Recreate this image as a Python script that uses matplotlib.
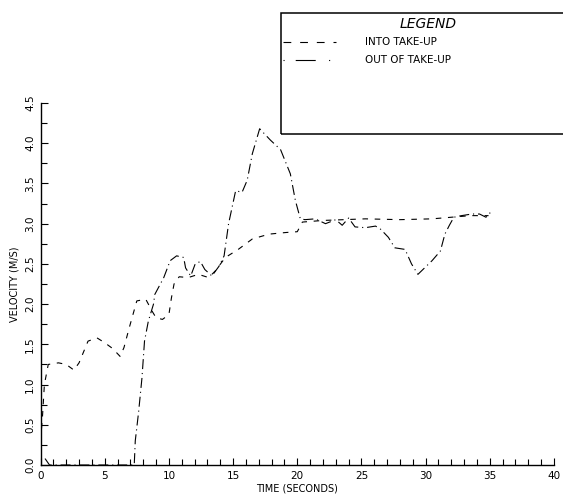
import matplotlib
matplotlib.use("Agg")
import matplotlib.pyplot as plt
from matplotlib.lines import Line2D
from matplotlib.patches import Rectangle
from matplotlib.ticker import MultipleLocator

# ---- data ----
into_t = [0.0, 0.15, 0.3, 0.6, 1.4, 2.0, 2.6, 3.0, 3.7, 4.4, 5.0, 5.6, 6.2, 6.5,
          6.9, 7.5, 8.2, 8.7, 9.0, 9.5, 10.0, 10.2, 10.4, 10.8, 11.5, 12.3, 13.1,
          13.6, 14.4, 15.4, 16.5, 17.8, 19.1, 20.0, 20.4, 22.0, 25.3, 28.0, 30.5,
          32.0, 33.5, 34.9]
into_v = [0.30, 0.60, 1.00, 1.25, 1.27, 1.25, 1.18, 1.27, 1.54, 1.58, 1.52, 1.45,
          1.35, 1.46, 1.70, 2.04, 2.06, 1.91, 1.83, 1.81, 1.87, 2.08, 2.25, 2.34,
          2.33, 2.37, 2.33, 2.41, 2.58, 2.68, 2.81, 2.87, 2.89, 2.90, 3.02, 3.04,
          3.06, 3.05, 3.06, 3.08, 3.10, 3.10]

out_t = [0.35, 0.7, 7.3, 7.38, 7.64, 7.9, 8.1, 8.4, 8.8, 8.9, 9.6, 10.1, 10.6,
         11.15, 11.3, 11.7, 12.05, 12.45, 12.8, 13.35, 13.9, 14.3, 14.65, 15.2,
         15.7, 16.1, 16.5, 17.07, 17.9, 18.7, 19.46, 19.85, 20.24, 20.6, 21.4,
         22.2, 23.0, 23.5, 24.0, 24.5, 25.3, 26.1, 26.5, 27.1, 27.6, 28.4, 28.9,
         29.4, 30.5, 31.15, 31.5, 31.85, 32.2, 32.8, 33.6, 34.2, 34.7, 35.05]
out_v = [0.08, 0.0, 0.0, 0.30, 0.66, 1.08, 1.54, 1.79, 2.00, 2.12, 2.33, 2.54,
         2.60, 2.58, 2.45, 2.35, 2.50, 2.53, 2.43, 2.35, 2.47, 2.60, 3.00, 3.41,
         3.39, 3.54, 3.87, 4.18, 4.04, 3.92, 3.62, 3.29, 3.06, 3.05, 3.06, 3.00,
         3.05, 2.98, 3.07, 2.96, 2.95, 2.97, 2.93, 2.83, 2.70, 2.68, 2.50, 2.37,
         2.54, 2.66, 2.87, 2.98, 3.08, 3.10, 3.12, 3.12, 3.08, 3.14]

x_ticks = [0, 5, 10, 15, 20, 25, 30, 35, 40]
y_ticks = [0.0, 0.5, 1.0, 1.5, 2.0, 2.5, 3.0, 3.5, 4.0, 4.5]
series_labels = ["INTO TAKE-UP", "OUT OF TAKE-UP"]

plt.rcParams['font.family'] = ['DejaVu Sans']

fig = plt.figure(figsize=(5.63, 4.95), dpi=100)
ax = fig.add_axes([0.072, 0.0606, 0.912, 0.7313])

dash_style = (0, (5, 6))
dashdot_style = (0, (9, 3.5, 1, 3.5))
lw = 0.8

ax.plot(into_t, into_v, color='black', lw=lw, linestyle=dash_style)
ax.plot(out_t, out_v, color='black', lw=lw, linestyle=dashdot_style)

ax.set_xlim(0, 40)
ax.set_ylim(0, 4.5)
ax.set_xticks(x_ticks)
ax.set_xticklabels([str(v) for v in x_ticks])
ax.set_yticks(y_ticks)
ax.set_yticklabels([f"{v:.1f}" for v in y_ticks], rotation=90, va='center')
ax.xaxis.set_minor_locator(MultipleLocator(1))
ax.yaxis.set_minor_locator(MultipleLocator(0.25))
ax.tick_params(axis='both', which='major', direction='in', length=5, width=0.8,
               labelsize=7.5, pad=4)
ax.tick_params(axis='both', which='minor', direction='in', length=4, width=0.8)
for s in ['top', 'right']:
    ax.spines[s].set_visible(False)
for s in ['left', 'bottom']:
    ax.spines[s].set_linewidth(1.0)

ax.set_xlabel("TIME (SECONDS)", fontsize=7)
ax.xaxis.set_label_coords(0.5, -0.052)
ax.set_ylabel("VELOCITY (M/S)", fontsize=7)
ax.yaxis.set_label_coords(-0.04, 0.5)

# ---- legend box ----
fig.patches.append(Rectangle((0.499, 0.729), 0.6, 0.245, transform=fig.transFigure,
                             fill=False, edgecolor='black', lw=1.1))
fig.text(0.760, 0.952, "LEGEND", fontsize=10, style='italic', ha='center', va='center')
fig.lines.append(Line2D([0.503, 0.597], [0.915, 0.915], transform=fig.transFigure,
                        color='black', lw=lw, linestyle=(0, (7, 8))))
fig.lines.append(Line2D([0.503, 0.588], [0.879, 0.879], transform=fig.transFigure,
                        color='black', lw=lw, linestyle=(0, (1, 10, 18, 12, 1, 20))))
fig.text(0.648, 0.915, series_labels[0], fontsize=7.5, va='center')
fig.text(0.648, 0.879, series_labels[1], fontsize=7.5, va='center')

fig.savefig("out.png", dpi=100)
